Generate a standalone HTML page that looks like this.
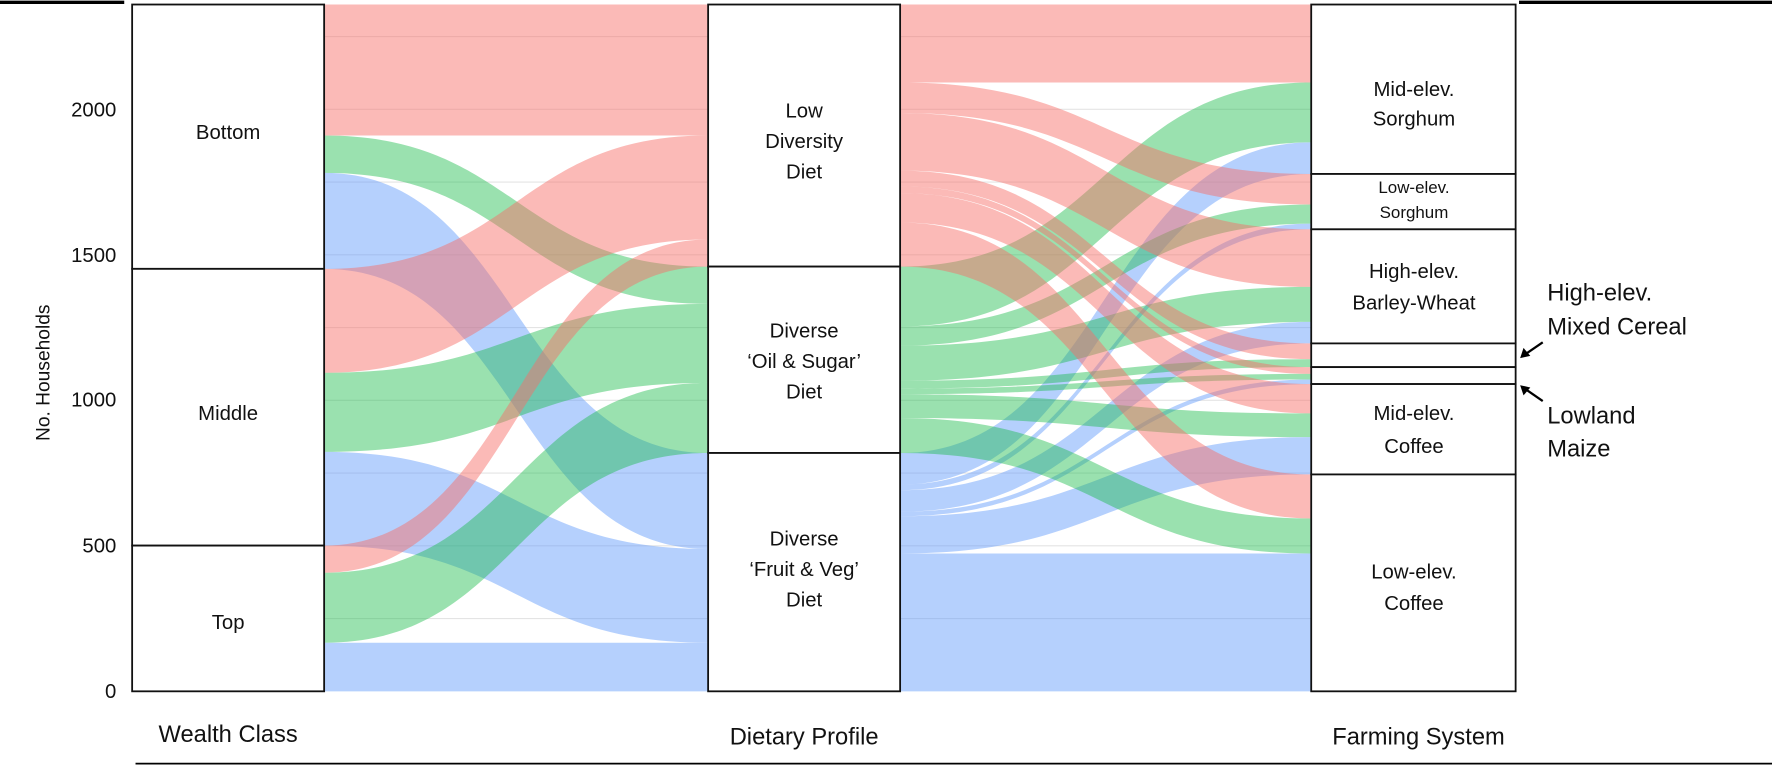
<!DOCTYPE html>
<html><head><meta charset="utf-8"><style>
html,body{margin:0;padding:0;background:#fff;}
svg{display:block;}
text{font-family:"Liberation Sans",Arial,sans-serif;fill:#111;}
</style></head><body>
<svg id="s" width="1772" height="767" viewBox="0 0 1569 679" preserveAspectRatio="none" xmlns="http://www.w3.org/2000/svg">
<g id="grid" stroke="#e4e4e4" stroke-width="1"></g>
<g id="flows"></g>
<g fill="#fff" stroke="#111" stroke-width="1.6">
<rect x="117" y="4" width="170" height="234"/><rect x="117" y="238" width="170" height="245"/><rect x="117" y="483" width="170" height="129"/>
<rect x="627" y="4" width="170" height="232"/><rect x="627" y="236" width="170" height="165"/><rect x="627" y="401" width="170" height="211"/>
<rect x="1161" y="4" width="181" height="150"/><rect x="1161" y="154" width="181" height="49"/><rect x="1161" y="203" width="181" height="101"/><rect x="1161" y="304" width="181" height="21"/><rect x="1161" y="325" width="181" height="15"/><rect x="1161" y="340" width="181" height="80"/><rect x="1161" y="420" width="181" height="192"/>
</g>
<g font-size="18" text-anchor="middle">
<text x="202" y="123">Bottom</text><text x="202" y="372">Middle</text><text x="202" y="557">Top</text>
<text x="712" y="104">Low</text><text x="712" y="131">Diversity</text><text x="712" y="158">Diet</text>
<text x="712" y="299">Diverse</text><text x="712" y="326">‘Oil &amp; Sugar’</text><text x="712" y="353">Diet</text>
<text x="712" y="483">Diverse</text><text x="712" y="510">‘Fruit &amp; Veg’</text><text x="712" y="537">Diet</text>
<text x="1252" y="85">Mid-elev.</text><text x="1252" y="111">Sorghum</text>
<text x="1252" y="171" font-size="15">Low-elev.</text><text x="1252" y="193" font-size="15">Sorghum</text>
<text x="1252" y="246">High-elev.</text><text x="1252" y="274">Barley-Wheat</text>
<text x="1252" y="372">Mid-elev.</text><text x="1252" y="401">Coffee</text>
<text x="1252" y="512">Low-elev.</text><text x="1252" y="540">Coffee</text>
</g>
<g font-size="18" text-anchor="end">
<text x="103" y="618">0</text><text x="103" y="489">500</text><text x="103" y="360">1000</text><text x="103" y="232">1500</text><text x="103" y="103">2000</text>
</g>
<text transform="translate(44,330) rotate(-90)" font-size="17" text-anchor="middle">No. Households</text>
<g font-size="21" text-anchor="middle">
<text x="202" y="657">Wealth Class</text><text x="712" y="659">Dietary Profile</text><text x="1256" y="659">Farming System</text>
</g>
<g font-size="21">
<text x="1370" y="266">High-elev.</text><text x="1370" y="296">Mixed Cereal</text>
<text x="1370" y="375">Lowland</text><text x="1370" y="404">Maize</text>
</g>
<g stroke="#000" stroke-width="2" fill="none">
<line x1="1366" y1="303" x2="1350" y2="314"/><line x1="1366" y1="355" x2="1350" y2="344"/>
</g>
<polygon points="1346,317 1349,308 1355,315" fill="#000"/>
<polygon points="1346,341 1355,343 1349,350" fill="#000"/>
<line x1="0" y1="2" x2="110" y2="2" stroke="#000" stroke-width="3"/>
<line x1="1345" y1="2" x2="1569" y2="2" stroke="#000" stroke-width="3"/>
<line x1="120" y1="676" x2="1569" y2="676" stroke="#000" stroke-width="1.5"/>
</svg>
<script>
var NS="http://www.w3.org/2000/svg";
var g=document.getElementById("grid");
for(var k=1;k<=10;k++){var y=612-k*64.4;if(y<4)break;var l=document.createElementNS(NS,"line");l.setAttribute("x1",117);l.setAttribute("x2",1342);l.setAttribute("y1",y);l.setAttribute("y2",y);g.appendChild(l);}
var col=["rgba(246,110,105,0.48)","rgba(20,185,70,0.43)","rgba(90,150,250,0.45)"];
var f=document.getElementById("flows");
function rib(x1,a1,b1,x2,a2,b2,c){var m=(x1+x2)/2;var p=document.createElementNS(NS,"path");
p.setAttribute("d","M"+x1+","+a1+" C"+m+","+a1+" "+m+","+a2+" "+x2+","+a2+" L"+x2+","+b2+" C"+m+","+b2+" "+m+","+b1+" "+x1+","+b1+" Z");
p.setAttribute("fill",col[c]);f.appendChild(p);}
var W=[[116,33,85],[92,70,83],[24,62,43]];var wTop=[4,238,483];
var dTop=[4,236,401];var dCur=dTop.slice();
for(var i=0;i<3;i++){var y=wTop[i];for(var c=0;c<3;c++){var v=W[i][c];rib(287,y,y+v,627,dCur[c],dCur[c]+v,c);y+=v;dCur[c]+=v;}}
var F=[[69,53,28],[27,17,5],[51,31,19],[14,7,0],[6,5,4],[26,21,33],[39,31,122]];
var fTop=[4,154,203,304,325,340,420];var dc=dTop.slice();
for(var j=0;j<7;j++){var y=fTop[j];for(var c=0;c<3;c++){var v=F[j][c];if(v>0)rib(797,dc[c],dc[c]+v,1161,y,y+v,c);y+=v;dc[c]+=v;}}
</script>
</body></html>
